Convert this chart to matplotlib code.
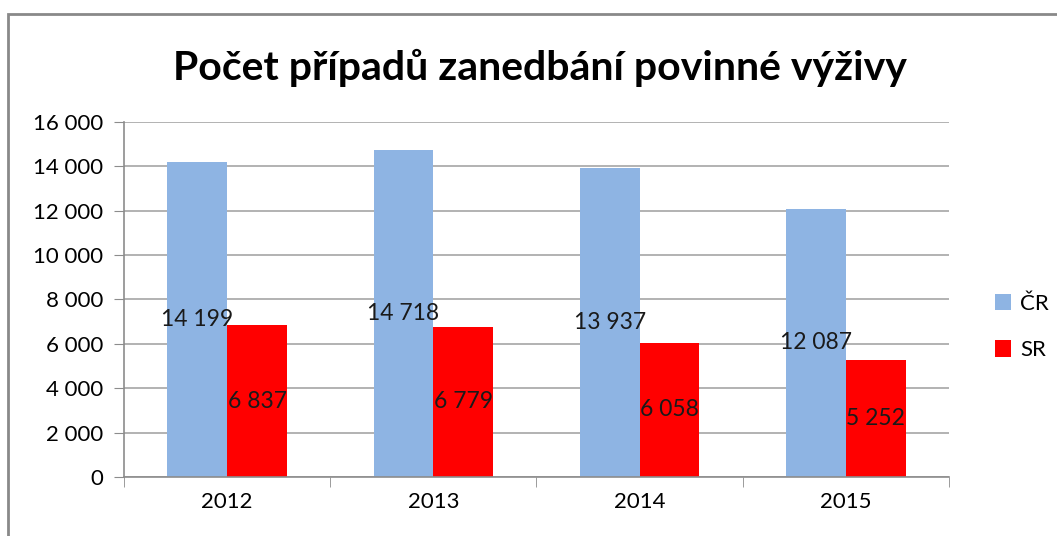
import matplotlib.pyplot as plt
import matplotlib.patches as patches
import numpy as np

years = ['2012', '2013', '2014', '2015']
cr = [14199, 14718, 13937, 12087]
sr = [6837, 6779, 6058, 5252]
yticks = [0, 2000, 4000, 6000, 8000, 10000, 12000, 14000, 16000]

plt.rcParams['font.family'] = ['Lato', 'DejaVu Sans']

def fmt(v):
    return '{:,}'.format(v).replace(',', ' ')

fig = plt.figure(figsize=(10.57, 5.36), dpi=100)
ax = fig.add_axes([0.1173, 0.1101, 0.7805, 0.6623])

x = np.arange(len(years))
w = 0.29
b1 = ax.bar(x - w / 2, cr, w, color='#8EB4E3', label='ČR', zorder=2)
b2 = ax.bar(x + w / 2, sr, w, color='#FF0000', label='SR', zorder=2)

# popisky uprostred sloupcu
for bars, vals in [(b1, cr), (b2, sr)]:
    for rect, v in zip(bars, vals):
        ax.text(rect.get_x() + rect.get_width() / 2, v / 2, fmt(v),
                ha='center', va='center', fontsize=16.5, color='#1a1a1a', zorder=3)

ax.set_ylim(0, 16000)
ax.set_xlim(-0.5, 3.5)
ax.set_yticks(yticks)
ax.set_yticklabels([fmt(v) for v in yticks], fontsize=16)
ax.set_xticks(x)
ax.set_xticklabels(years, fontsize=16)
ax.set_xticks(np.arange(-0.5, 4.0, 1.0), minor=True)
ax.tick_params(axis='x', which='major', length=0, pad=11)
ax.tick_params(axis='x', which='minor', length=7, color='#8c8c8c')
ax.tick_params(axis='y', length=7, color='#8c8c8c', pad=8)

ax.grid(axis='y', color='#a6a6a6', linewidth=1.2, zorder=0)
ax.set_axisbelow(True)
for s in ['top', 'right']:
    ax.spines[s].set_visible(False)
for s in ['left', 'bottom']:
    ax.spines[s].set_color('#8c8c8c')
    ax.spines[s].set_linewidth(1.2)

fig.text(0.511, 0.873, 'Počet případů zanedbání povinné výživy',
         ha='center', va='center', fontsize=29.5, fontweight='bold')

fig.legend(handles=[b1, b2], loc='center left', bbox_to_anchor=(0.922, 0.39),
           frameon=False, fontsize=16, handlelength=0.75, handleheight=0.75,
           handletextpad=0.4, labelspacing=1.2)

# ramecek grafu
frame = patches.Rectangle((8 / 1057, -0.2), 1.2, 1.2 - 14 / 536, transform=fig.transFigure,
                          fill=False, edgecolor='#898989', linewidth=2, clip_on=False)
fig.patches.append(frame)

fig.savefig('out.png', dpi=100)
